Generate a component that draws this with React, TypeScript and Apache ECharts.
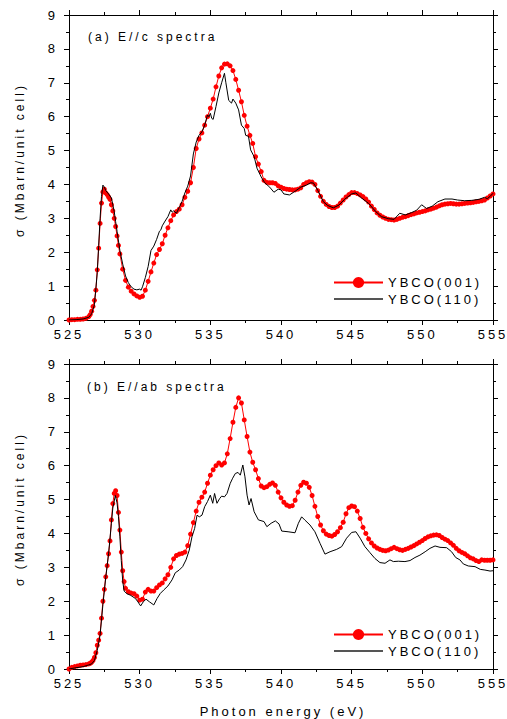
import React, { useEffect, useRef } from "react";
import * as echarts from "echarts";

const FONT = '"Liberation Sans", Arial, Helvetica, sans-serif';

const xRange = [525, 555];
const xStep = 5;
const yRange = [0, 9];
const yStep = 1;

const seriesNames = ["YBCO(001)", "YBCO(110)"];
const panelTitles = ["(a) E//c spectra", "(b) E//ab spectra"];
const yName = "σ (Mbarn/unit cell)";
const xName = "Photon energy (eV)";

// Panel (a) E//c, YBCO(001) [eV, Mbarn/unit cell]
const topRed = [
  [525.0, 0.0], [525.2, 0.01], [525.4, 0.01], [525.6, 0.02], [525.8, 0.02], [526.0, 0.03], [526.2, 0.05],
  [526.4, 0.1], [526.5, 0.16], [526.6, 0.26], [526.7, 0.4], [526.8, 0.58], [526.9, 0.88], [527.0, 1.48],
  [527.1, 2.12], [527.2, 2.85], [527.3, 3.45], [527.4, 3.78], [527.5, 3.86], [527.6, 3.75], [527.7, 3.7],
  [527.8, 3.63], [527.9, 3.56], [528.0, 3.4], [528.1, 3.22], [528.2, 3.0], [528.3, 2.76], [528.4, 2.48],
  [528.5, 2.2], [528.6, 1.95], [528.8, 1.5], [529.0, 1.17], [529.2, 0.97], [529.4, 0.85], [529.6, 0.77],
  [529.8, 0.71], [530.0, 0.67], [530.2, 0.7], [530.4, 0.88], [530.6, 1.14], [530.8, 1.42], [531.0, 1.68],
  [531.2, 1.93], [531.4, 2.08], [531.6, 2.25], [531.8, 2.5], [532.0, 2.72], [532.2, 2.93], [532.4, 3.1],
  [532.6, 3.2], [532.8, 3.27], [533.0, 3.4], [533.2, 3.62], [533.4, 3.8], [533.6, 4.05], [533.8, 4.5],
  [534.0, 5.06], [534.2, 5.34], [534.4, 5.52], [534.6, 5.75], [534.8, 6.0], [535.0, 6.25], [535.2, 6.52],
  [535.4, 6.88], [535.6, 7.2], [535.8, 7.44], [536.0, 7.55], [536.2, 7.56], [536.4, 7.5], [536.6, 7.36],
  [536.8, 7.1], [537.0, 6.78], [537.2, 6.44], [537.4, 6.04], [537.6, 5.72], [537.8, 5.45], [538.0, 5.21],
  [538.2, 4.82], [538.4, 4.6], [538.6, 4.38], [538.8, 4.12], [539.0, 4.06], [539.2, 4.05], [539.4, 4.05],
  [539.6, 4.03], [539.8, 3.96], [540.0, 3.92], [540.2, 3.88], [540.4, 3.86], [540.6, 3.85], [540.8, 3.84],
  [541.0, 3.84], [541.2, 3.86], [541.4, 3.9], [541.6, 4.0], [541.8, 4.05], [542.0, 4.08], [542.2, 4.07],
  [542.4, 4.0], [542.6, 3.82], [542.8, 3.65], [543.0, 3.5], [543.2, 3.41], [543.4, 3.35], [543.6, 3.32],
  [543.8, 3.32], [544.0, 3.36], [544.2, 3.45], [544.4, 3.54], [544.6, 3.63], [544.8, 3.7], [545.0, 3.76],
  [545.2, 3.76], [545.4, 3.73], [545.6, 3.69], [545.8, 3.64], [546.0, 3.57], [546.2, 3.48], [546.4, 3.36],
  [546.6, 3.26], [546.8, 3.16], [547.0, 3.09], [547.2, 3.04], [547.4, 3.0], [547.6, 2.97], [547.8, 2.96],
  [548.0, 2.95], [548.2, 2.97], [548.4, 3.0], [548.6, 3.03], [548.8, 3.05], [549.0, 3.08], [549.2, 3.11],
  [549.4, 3.13], [549.6, 3.16], [549.8, 3.18], [550.0, 3.2], [550.2, 3.22], [550.4, 3.25], [550.6, 3.27],
  [550.8, 3.3], [551.0, 3.33], [551.2, 3.37], [551.4, 3.4], [551.6, 3.42], [551.8, 3.43], [552.0, 3.44],
  [552.2, 3.43], [552.4, 3.42], [552.6, 3.42], [552.8, 3.43], [553.0, 3.44], [553.2, 3.45], [553.4, 3.46],
  [553.6, 3.47], [553.8, 3.49], [554.0, 3.5], [554.2, 3.52], [554.4, 3.54], [554.6, 3.6], [554.8, 3.66],
  [555.0, 3.72],
];

// Panel (a) E//c, YBCO(110)
const topBlack = [
  [525.0, 0.0], [525.5, 0.01], [526.0, 0.03], [526.4, 0.08], [526.6, 0.18], [526.8, 0.45], [527.0, 1.4],
  [527.1, 2.2], [527.2, 3.0], [527.3, 3.65], [527.4, 3.98], [527.5, 3.92], [527.6, 3.82], [527.8, 3.72],
  [528.0, 3.6], [528.1, 3.4], [528.2, 3.2], [528.3, 2.9], [528.4, 2.62], [528.6, 2.05], [528.8, 1.65],
  [529.0, 1.3], [529.2, 1.1], [529.4, 0.98], [529.6, 0.91], [529.8, 0.89], [530.0, 0.91], [530.1, 0.88],
  [530.2, 0.98], [530.4, 1.25], [530.6, 1.58], [530.8, 2.05], [531.0, 2.18], [531.2, 2.38], [531.4, 2.62],
  [531.5, 2.66], [531.6, 2.78], [531.8, 2.92], [532.0, 3.05], [532.2, 3.25], [532.3, 3.18], [532.4, 3.22],
  [532.6, 3.15], [532.8, 3.32], [533.0, 3.5], [533.2, 3.75], [533.4, 3.95], [533.6, 4.25], [533.8, 4.9],
  [534.0, 5.25], [534.2, 5.45], [534.4, 5.55], [534.6, 5.75], [534.8, 6.05], [534.9, 6.0], [535.0, 6.1],
  [535.1, 5.95], [535.2, 5.92], [535.4, 6.3], [535.6, 6.7], [535.8, 7.0], [536.0, 7.28], [536.1, 7.0],
  [536.3, 6.48], [536.5, 6.4], [536.6, 6.52], [536.8, 6.4], [537.0, 6.2], [537.2, 5.75], [537.4, 5.65],
  [537.5, 5.45], [537.7, 5.42], [537.85, 5.02], [538.1, 4.82], [538.3, 4.48], [538.6, 4.22], [538.85, 4.05],
  [539.2, 3.92], [539.5, 3.77], [539.8, 3.86], [540.0, 3.84], [540.2, 3.72], [540.6, 3.69], [541.0, 3.8],
  [541.4, 3.92], [541.8, 3.98], [542.1, 4.05], [542.3, 4.04], [542.6, 3.83], [543.0, 3.49], [543.3, 3.38],
  [543.7, 3.31], [544.1, 3.39], [544.5, 3.56], [545.0, 3.72], [545.3, 3.75], [545.7, 3.6], [546.2, 3.44],
  [546.7, 3.2], [547.1, 3.05], [547.6, 2.99], [548.0, 2.97], [548.4, 3.15], [548.8, 3.1], [549.25, 3.17],
  [549.6, 3.24], [549.95, 3.4], [550.3, 3.29], [550.7, 3.36], [551.1, 3.49], [551.6, 3.57], [552.1, 3.57],
  [552.5, 3.54], [553.0, 3.52], [553.5, 3.53], [554.0, 3.56], [554.4, 3.62], [554.6, 3.58], [554.8, 3.65],
  [555.0, 3.74],
];

// Panel (b) E//ab, YBCO(001)
const botRed = [
  [525.0, 0.0], [525.2, 0.05], [525.4, 0.07], [525.6, 0.09], [525.8, 0.11], [526.0, 0.12], [526.2, 0.13],
  [526.4, 0.15], [526.5, 0.17], [526.6, 0.2], [526.7, 0.25], [526.8, 0.34], [526.9, 0.48], [527.0, 0.7],
  [527.1, 0.85], [527.2, 1.05], [527.3, 1.5], [527.4, 2.0], [527.5, 2.35], [527.6, 2.72], [527.7, 3.05],
  [527.8, 3.4], [527.9, 3.78], [528.0, 4.4], [528.1, 4.88], [528.2, 5.18], [528.3, 5.26], [528.4, 5.12],
  [528.5, 4.62], [528.6, 4.1], [528.7, 3.45], [528.8, 2.9], [528.9, 2.58], [529.0, 2.38], [529.2, 2.28],
  [529.4, 2.24], [529.6, 2.22], [529.8, 2.15], [530.0, 2.03], [530.2, 2.06], [530.4, 2.27], [530.6, 2.35],
  [530.8, 2.3], [531.0, 2.3], [531.2, 2.4], [531.4, 2.48], [531.6, 2.54], [531.8, 2.66], [532.0, 2.78],
  [532.2, 3.0], [532.4, 3.25], [532.6, 3.35], [532.8, 3.39], [533.0, 3.41], [533.2, 3.45], [533.4, 3.64],
  [533.6, 3.98], [533.8, 4.32], [534.0, 4.66], [534.2, 4.92], [534.4, 5.07], [534.6, 5.22], [534.8, 5.48],
  [535.0, 5.72], [535.2, 5.88], [535.4, 6.0], [535.6, 6.08], [535.8, 6.02], [536.0, 6.08], [536.2, 6.35],
  [536.4, 6.8], [536.6, 7.28], [536.8, 7.72], [537.0, 8.0], [537.2, 7.85], [537.4, 7.35], [537.6, 6.86],
  [537.8, 6.4], [538.0, 6.1], [538.2, 5.88], [538.4, 5.62], [538.6, 5.4], [538.8, 5.35], [539.0, 5.38],
  [539.2, 5.45], [539.4, 5.49], [539.6, 5.42], [539.8, 5.22], [540.0, 5.05], [540.2, 4.92], [540.4, 4.84],
  [540.6, 4.8], [540.8, 4.82], [541.0, 4.98], [541.2, 5.22], [541.4, 5.42], [541.6, 5.51], [541.8, 5.48],
  [542.0, 5.36], [542.2, 5.12], [542.4, 4.8], [542.6, 4.5], [542.8, 4.25], [543.0, 4.08], [543.2, 3.98],
  [543.4, 3.94], [543.6, 3.92], [543.8, 3.97], [544.0, 4.05], [544.2, 4.17], [544.4, 4.33], [544.6, 4.58],
  [544.8, 4.76], [545.0, 4.81], [545.2, 4.79], [545.4, 4.66], [545.6, 4.44], [545.8, 4.18], [546.0, 4.0],
  [546.2, 3.84], [546.4, 3.72], [546.6, 3.63], [546.8, 3.57], [547.0, 3.53], [547.2, 3.5], [547.4, 3.49],
  [547.6, 3.51], [547.8, 3.55], [548.0, 3.59], [548.2, 3.55], [548.4, 3.52], [548.6, 3.5], [548.8, 3.53],
  [549.0, 3.56], [549.2, 3.6], [549.4, 3.64], [549.6, 3.69], [549.8, 3.74], [550.0, 3.79], [550.2, 3.85],
  [550.4, 3.9], [550.6, 3.93], [550.8, 3.95], [551.0, 3.96], [551.2, 3.94], [551.4, 3.88], [551.6, 3.83],
  [551.8, 3.79], [552.0, 3.72], [552.2, 3.65], [552.4, 3.56], [552.6, 3.49], [552.8, 3.44], [553.0, 3.4],
  [553.2, 3.34], [553.4, 3.28], [553.6, 3.25], [553.8, 3.2], [554.0, 3.17], [554.2, 3.22], [554.4, 3.21],
  [554.6, 3.21], [554.8, 3.21], [555.0, 3.22],
];

// Panel (b) E//ab, YBCO(110)
const botBlack = [
  [525.0, 0.0], [525.4, 0.03], [526.0, 0.07], [526.4, 0.12], [526.6, 0.15], [526.8, 0.25], [527.0, 0.55],
  [527.2, 1.0], [527.4, 1.9], [527.6, 2.7], [527.8, 3.4], [528.0, 4.3], [528.1, 4.75], [528.28, 5.12],
  [528.4, 4.9], [528.5, 4.5], [528.6, 3.9], [528.7, 3.2], [528.8, 2.6], [528.9, 2.3], [529.1, 2.22],
  [529.34, 2.18], [529.7, 2.08], [529.88, 1.98], [530.07, 1.86], [530.25, 1.98], [530.45, 2.06], [530.7, 1.98],
  [531.0, 1.89], [531.23, 2.08], [531.46, 2.23], [531.7, 2.33], [532.0, 2.45], [532.29, 2.63], [532.52, 2.84],
  [532.8, 2.92], [533.04, 3.02], [533.28, 3.22], [533.51, 3.51], [533.7, 3.9], [533.89, 4.15], [534.06, 4.54],
  [534.22, 4.49], [534.41, 4.54], [534.6, 4.79], [534.8, 4.94], [535.0, 5.13], [535.17, 4.89], [535.3, 5.18],
  [535.47, 4.89], [535.66, 5.03], [535.8, 5.1], [536.0, 5.08], [536.18, 5.18], [536.41, 5.48], [536.58, 5.63],
  [536.77, 5.77], [536.96, 5.8], [537.12, 5.72], [537.3, 6.02], [537.45, 5.67], [537.6, 5.13], [537.74, 4.84],
  [537.88, 5.03], [538.1, 4.64], [538.4, 4.4], [538.8, 4.35], [539.0, 4.2], [539.3, 4.3], [539.6, 4.37],
  [539.86, 4.28], [540.05, 4.07], [540.5, 4.05], [540.99, 4.02], [541.23, 4.3], [541.46, 4.49], [541.7, 4.39],
  [542.05, 4.25], [542.4, 4.05], [542.76, 3.71], [543.11, 3.39], [543.47, 3.46], [543.94, 3.53], [544.29, 3.61],
  [544.64, 3.86], [545.0, 4.03], [545.3, 4.05], [545.6, 3.86], [545.94, 3.61], [546.3, 3.43], [546.65, 3.26],
  [547.0, 3.14], [547.36, 3.12], [547.71, 3.22], [547.95, 3.17], [548.3, 3.18], [548.77, 3.17], [549.13, 3.2],
  [549.48, 3.29], [549.83, 3.36], [550.2, 3.46], [550.54, 3.56], [550.9, 3.63], [551.25, 3.59], [551.72, 3.58],
  [552.07, 3.46], [552.36, 3.29], [552.66, 3.22], [552.9, 3.1], [553.25, 3.04], [553.73, 3.02], [554.1, 2.94],
  [554.43, 2.92], [554.79, 2.89], [555.0, 2.9],
];

const panels = [
  { red: topRed, black: topBlack },
  { red: botRed, black: botBlack },
];

export default function App() {
  const ref = useRef<HTMLDivElement>(null);

  useEffect(() => {
    document.body.style.margin = "0";
    if (!ref.current) return;
    const chart = echarts.init(ref.current, null, { renderer: "svg" });

    const grids = [
      { left: 69, top: 15, width: 424, height: 305 },
      { left: 69, top: 364, width: 424, height: 305 },
    ];

    const axisCommon = {
      axisLine: { show: true, onZero: false, lineStyle: { color: "#000", width: 1 } },
      axisTick: { show: true, inside: false, length: 5, lineStyle: { color: "#000", width: 1 } },
      minorTick: { show: true, splitNumber: 2, length: 3, lineStyle: { color: "#000", width: 1 } },
      splitLine: { show: false },
      minorSplitLine: { show: false },
    };

    const xAxes: any[] = [];
    const yAxes: any[] = [];
    grids.forEach((_, gi) => {
      xAxes.push({
        type: "value", gridIndex: gi, position: "bottom",
        min: xRange[0], max: xRange[1], interval: xStep, ...axisCommon,
        axisLabel: { show: true, color: "#000", fontSize: 13, fontFamily: FONT, margin: 8 },
      });
      xAxes.push({
        type: "value", gridIndex: gi, position: "top",
        min: xRange[0], max: xRange[1], interval: xStep, ...axisCommon,
        axisLabel: { show: false },
      });
      yAxes.push({
        type: "value", gridIndex: gi, position: "left",
        min: yRange[0], max: yRange[1], interval: yStep, ...axisCommon,
        axisLabel: { show: true, color: "#000", fontSize: 13, fontFamily: FONT, margin: 11 },
      });
      yAxes.push({
        type: "value", gridIndex: gi, position: "right",
        min: yRange[0], max: yRange[1], interval: yStep, ...axisCommon,
        axisLabel: { show: false },
      });
    });

    const series: any[] = [];
    panels.forEach((p, pi) => {
      series.push({
        name: seriesNames[0], type: "line", xAxisIndex: pi * 2, yAxisIndex: pi * 2,
        data: p.red, symbol: "circle", symbolSize: 5, showAllSymbol: true,
        lineStyle: { color: "#ff0000", width: 1 }, itemStyle: { color: "#ff0000" },
        z: 2, silent: true,
      });
      series.push({
        name: seriesNames[1], type: "line", xAxisIndex: pi * 2, yAxisIndex: pi * 2,
        data: p.black, symbol: "none", showSymbol: false,
        lineStyle: { color: "#000", width: 1 }, itemStyle: { color: "#000" },
        z: 3, silent: true,
      });
    });

    const legendTops = [276, 628];
    const legends = legendTops.map((t) => ({
      left: 333, top: t, padding: 0, orient: "vertical", itemWidth: 49, itemHeight: 14, itemGap: 3.5,
      selectedMode: false,
      textStyle: { fontSize: 13, color: "#000", fontFamily: FONT },
      data: [
        { name: seriesNames[0] },
        { name: seriesNames[1], icon: "path://M0,0H49V2H0Z", itemStyle: { color: "#555" } },
      ],
    }));

    const txt = { fontSize: 13, fontFamily: FONT, fill: "#000" };
    chart.setOption({
      animation: false,
      backgroundColor: "#fff",
      grid: grids,
      xAxis: xAxes,
      yAxis: yAxes,
      series,
      legend: legends,
      graphic: [
        { type: "text", left: 88, top: 31, style: { ...txt, fontSize: 12, text: panelTitles[0] } },
        { type: "text", left: 87, top: 381, style: { ...txt, fontSize: 12, text: panelTitles[1] } },
        { type: "text", x: 20, y: 160, rotation: Math.PI / 2, style: { ...txt, fontSize: 12, text: yName, align: "center", verticalAlign: "middle" } },
        { type: "text", x: 20, y: 509, rotation: Math.PI / 2, style: { ...txt, fontSize: 12, text: yName, align: "center", verticalAlign: "middle" } },
        { type: "text", x: 283, y: 711, style: { ...txt, fontSize: 13, text: xName, align: "center", verticalAlign: "middle" } },
      ],
    });

    return () => chart.dispose();
  }, []);

  return <div ref={ref} style={{ width: 507, height: 719, letterSpacing: "3px" }} />;
}
